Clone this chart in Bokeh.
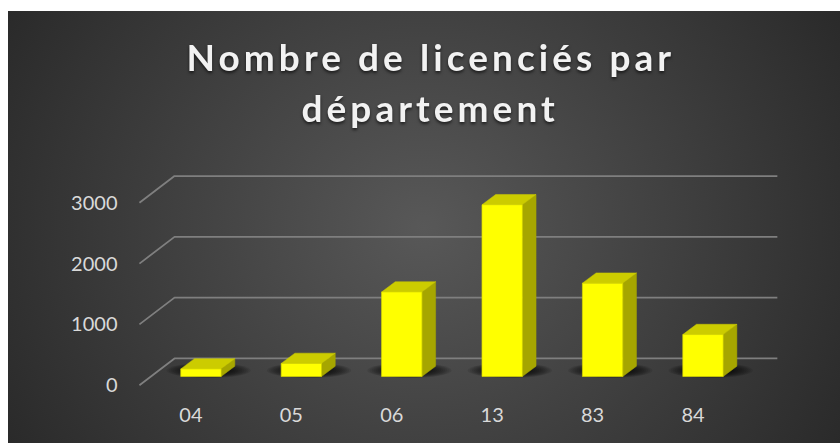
from bokeh.plotting import figure
from bokeh.layouts import column
from bokeh.models import Label, FixedTicker, Range1d
from bokeh.embed import file_html
from bokeh.resources import INLINE

# ---- data
departements = ["04", "05", "06", "13", "83", "84"]
licencies = [125, 215, 1390, 2825, 1535, 690]
y_ticks = [0, 1000, 2000, 3000]
titre_1 = "Nombre de licenciés par"
titre_2 = "département"

# ---- pseudo-3D geometry (data units: 1 = category slot on x, licence count on y)
BAR_LEFT, BAR_WIDTH = -0.1016, 0.402
DEPTH_X, DEPTH_Y = 0.1365, 169
BASE_Y = 143
GRID_X0, GRID_X1, GRID_X2 = -0.513, -0.164, 5.84
GRID_RISE = 440

# ---- title strip: its own figure, so the letter spacing only reaches the title
t = figure(width=840, height=150, output_backend="svg", toolbar_location=None,
           x_axis_location=None, y_axis_location=None,
           x_range=Range1d(0, 1), y_range=Range1d(0, 1),
           min_border_left=0, min_border_right=0, min_border_top=0, min_border_bottom=0,
           background_fill_alpha=0, border_fill_alpha=0, outline_line_color=None)
t.grid.visible = False
t.styles = {"letter-spacing": "4.05px", "filter": "drop-shadow(0 2px 1.5px rgba(0,0,0,.6))"}
for txt, sx, sy in ((titre_1, 61, 94), (titre_2, 176, 43)):
    t.add_layout(Label(x=sx, y=sy, x_units="screen", y_units="screen", text=txt,
                       text_font="Lato", text_font_style="bold", text_font_size="37px",
                       text_color="#f2f2f2", text_align="left", text_baseline="alphabetic"))

# ---- chart
p = figure(width=840, height=293, output_backend="svg", toolbar_location=None,
           x_range=(-0.652, 5.971), y_range=(-169.4, 3860.3),
           min_border_left=125, min_border_right=50, min_border_top=0, min_border_bottom=48,
           background_fill_alpha=0, border_fill_alpha=0, outline_line_color=None)
p.grid.visible = False

for ax in (p.xaxis[0], p.yaxis[0]):
    ax.axis_line_color = None
    ax.major_tick_line_color = None
    ax.minor_tick_line_color = None
    ax.major_label_text_color = "#d9d9d9"
    ax.major_label_text_font = "Lato"
    ax.major_label_text_font_size = "20px"
p.xaxis[0].ticker = FixedTicker(ticks=list(range(len(departements))))
p.xaxis[0].major_label_overrides = {i: d for i, d in enumerate(departements)}
p.xaxis[0].major_label_standoff = 6
p.yaxis[0].ticker = FixedTicker(ticks=y_ticks)
p.yaxis[0].major_label_standoff = 2

# gridlines: slanted floor/wall segment and back line
for v in y_ticks:
    p.line([GRID_X0, GRID_X1, GRID_X2], [v, v + GRID_RISE, v + GRID_RISE],
           line_color="#7f7f7f", line_width=1.8)

# soft shadows under the bars, built from stacked translucent ellipses
for i in range(len(departements)):
    for k in range(12):
        f = 1 - k * 0.05
        p.ellipse(x=i + 0.176, y=BASE_Y + 100, width=0.84 * f, height=250 * f,
                  fill_color="black", fill_alpha=0.09, line_color=None)

# bars
for i, v in enumerate(licencies):
    x0 = i + BAR_LEFT
    x1 = x0 + BAR_WIDTH
    y0 = BASE_Y
    y1 = BASE_Y + v
    p.patch([x1, x1 + DEPTH_X, x1 + DEPTH_X, x1], [y0, y0 + DEPTH_Y, y1 + DEPTH_Y, y1],
            fill_color="#a6a600", line_color="#a6a600", line_width=0.5)
    p.patch([x0, x1, x1 + DEPTH_X, x0 + DEPTH_X], [y1, y1, y1 + DEPTH_Y, y1 + DEPTH_Y],
            fill_color="#cccc00", line_color="#cccc00", line_width=0.5)
    p.quad(left=x0, right=x1, bottom=y0, top=y1, fill_color="#ffff00",
           line_color="#d9d900", line_width=0.7)

page = column(t, p, spacing=0, styles={
    "background": "radial-gradient(ellipse 480px 432px at 50% 50%, #585858 0%, #2a2a2a 100%) no-repeat 8px 11px / 832px 432px"})

open("out.html", "w").write(file_html(page, INLINE))
